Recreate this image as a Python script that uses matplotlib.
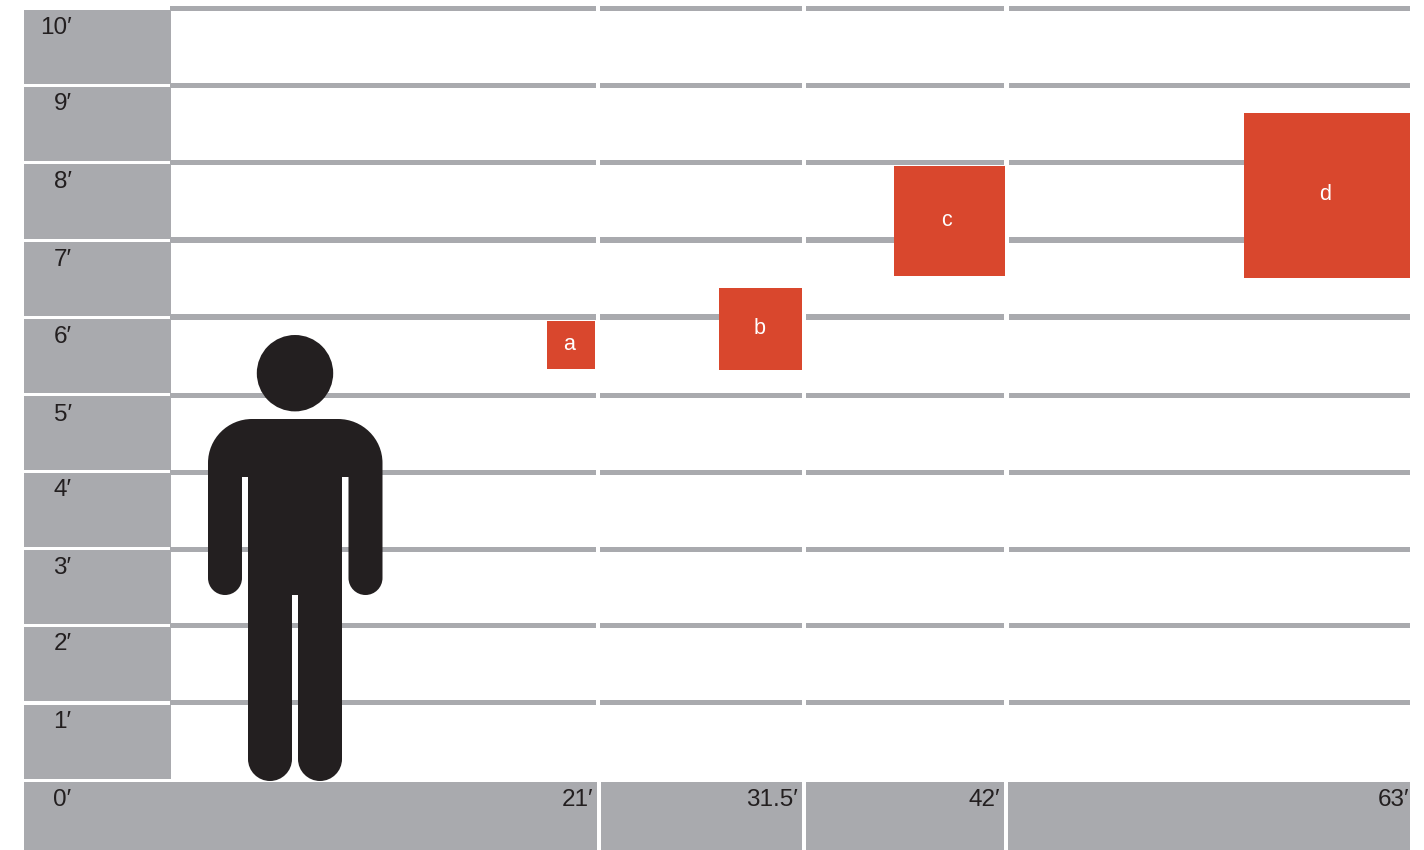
import matplotlib
matplotlib.use("Agg")
import matplotlib.pyplot as plt
from matplotlib.patches import Rectangle, Circle, PathPatch
from matplotlib.path import Path
from matplotlib.transforms import Affine2D

# ---- data (feet) ----
height_ticks = [0, 1, 2, 3, 4, 5, 6, 7, 8, 9, 10]
height_labels = ["0′", "1′", "2′", "3′", "4′", "5′", "6′", "7′", "8′", "9′", "10′"]
length_ticks = [21, 31.5, 42, 63]
length_labels = ["21′", "31.5′", "42′", "63′"]
box_names = ["a", "b", "c", "d"]
box_right = [20.95, 31.67, 42.13, 63.08]
box_bottom = [5.32, 5.31, 6.53, 6.51]
box_width = [2.48, 4.29, 5.74, 8.58]
box_height = [0.63, 1.06, 1.43, 2.14]

GRAY = "#A9AAAE"
RED = "#D9472D"
INK = "#231F20"
W, H = 1424, 850

# layout: pixels per foot and origin of the linear scales
PX_X, X21 = 19.35, 596.0
PX_Y, Y0 = 77.1, 779.5


def fx(px):
    return 21 + (px - X21) / PX_X


def fy(py):
    return (Y0 - py) / PX_Y


fig = plt.figure(figsize=(W / 100, H / 100), dpi=100, facecolor="white")
ax = fig.add_axes([0, 0, 1, 1])
ax.set_xlim(fx(0), fx(W))
ax.set_ylim(fy(H), fy(0))
ax.axis("off")
plt.rcParams["font.family"] = ["Liberation Sans", "DejaVu Sans"]


def prect(x0, x1, y0, y1, color, z=1):
    ax.add_patch(Rectangle((fx(x0), fy(y1)), fx(x1) - fx(x0), fy(y0) - fy(y1),
                           fc=color, ec="none", lw=0, zorder=z))


# grid line segments
seg_x = [(170, 595.5), (600, 802), (806, 1004), (1009, 1410)]
grid_y = {10: 8.5, 9: 85.5, 8: 162.5, 7: 240, 6: 317, 5: 395, 4: 472, 3: 549, 2: 625.5, 1: 702.5}
for v, gy in grid_y.items():
    for a, b in seg_x:
        prect(a, b, gy - 2.5, gy + 2.5, GRAY, 1)

# left height column
cells = {10: (10, 84), 9: (87, 161), 8: (164, 239), 7: (242, 316), 6: (319, 393),
         5: (396, 470), 4: (473, 547), 3: (550, 624), 2: (627, 701), 1: (705, 779)}
for v, (a, b) in cells.items():
    prect(24, 171, a, b, GRAY, 2)

# bottom length row
for a, b in [(24, 597), (601, 802), (806, 1004), (1008, 1410)]:
    prect(a, b, 782, H, GRAY, 2)

# height labels, right aligned in the column
label_py = {10: 26, 9: 102, 8: 179, 7: 257, 6: 334.5, 5: 412, 4: 488, 3: 565, 2: 641, 1: 719, 0: 797}
for v, lab in zip(height_ticks, height_labels):
    ax.text(fx(71.5), fy(label_py[v]), lab, ha="right", va="center_baseline",
            fontsize=17.5, color=INK, zorder=5)

# length labels
label_px = [593, 798, 1000, 1409]
for v, lab, lx in zip(length_ticks, length_labels, label_px):
    ax.text(fx(lx), fy(797), lab, ha="right", va="center_baseline",
            fontsize=17.5, color=INK, zorder=5)

# boxes
label_dx = [-0.1, -0.05, -0.15, -0.1]
for n, r, b, w, h, dx in zip(box_names, box_right, box_bottom, box_width, box_height, label_dx):
    ax.add_patch(Rectangle((r - w, b), w, h, fc=RED, ec="none", lw=0, zorder=4))
    ax.text(r - w / 2 + dx, b + h / 2 + 0.01, n, ha="center", va="center",
            fontsize=15.5, color="white", zorder=5)

# person pictogram (outline in pixel units, mapped through the data transform)
K = 0.5523
def arc(x0, y0, x1, y1, cx, cy):
    c1 = (x0 + (cx - x0) * K, y0 + (cy - y0) * K)
    c2 = (x1 + (cx - x1) * K, y1 + (cy - y1) * K)
    return [c1, c2, (x1, y1)]

verts = [(208, 463)]
codes = [Path.MOVETO]
def line(p):
    verts.append(p); codes.append(Path.LINETO)
def curve(pts):
    verts.extend(pts); codes.extend([Path.CURVE4] * 3)

curve(arc(208, 463, 252, 419, 208, 419))
line((338, 419))
curve(arc(338, 419, 382.5, 463, 382.5, 419))
line((382.5, 578))
curve(arc(382.5, 578, 365.5, 595, 382.5, 595))
curve(arc(365.5, 595, 348.5, 578, 348.5, 595))
line((348.5, 477)); line((342, 477)); line((342, 759))
curve(arc(342, 759, 320, 781, 342, 781))
curve(arc(320, 781, 298, 759, 298, 781))
line((298, 595)); line((292, 595)); line((292, 759))
curve(arc(292, 759, 270, 781, 292, 781))
curve(arc(270, 781, 248, 759, 248, 781))
line((248, 477)); line((242, 477)); line((242, 578))
curve(arc(242, 578, 225, 595, 242, 595))
curve(arc(225, 595, 208, 578, 208, 595))
line((208, 463))
verts.append((208, 463)); codes.append(Path.CLOSEPOLY)

to_data = Affine2D().scale(1 / PX_X, -1 / PX_Y).translate(21 - X21 / PX_X, Y0 / PX_Y) + ax.transData
ax.add_patch(PathPatch(Path(verts, codes), fc=INK, ec="none", lw=0, zorder=6, transform=to_data))
ax.add_patch(Circle((295, 373.2), 38.2, fc=INK, ec="none", lw=0, zorder=6, transform=to_data))

fig.savefig("out.png", dpi=100, facecolor="white")
